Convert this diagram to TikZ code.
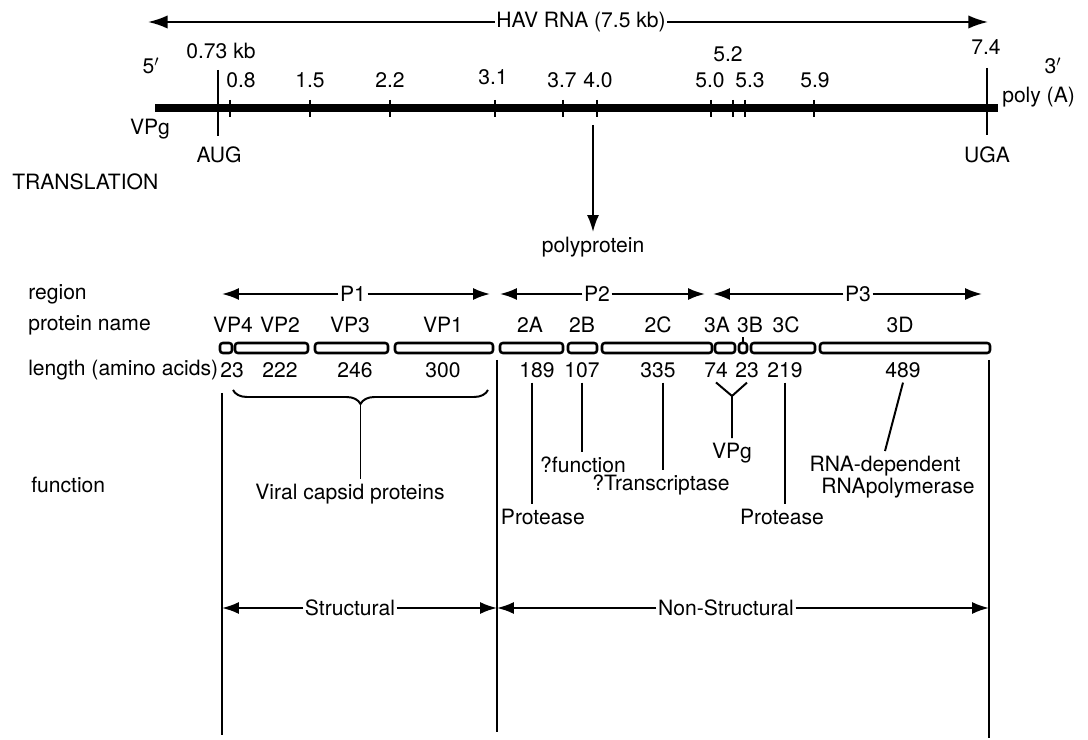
\documentclass[tikz,border=0pt]{standalone}
\usepackage{fontspec}
\setmainfont{TeX Gyre Heros}
\usetikzlibrary{arrows.meta,decorations.pathreplacing}

\begin{document}
\begin{tikzpicture}[x=0.025cm,y=-0.025cm,font=\fontsize{15}{18}\selectfont,
    thinl/.style={line width=1.4pt},
    arr/.style={thinl,-{Latex[length=12pt,width=8.5pt]}},
    bigarr/.style={thinl,-{Latex[length=14pt,width=9.5pt]}},
    pbox/.style={draw,line width=1.8pt,rounded corners=2pt,minimum height=0.25cm,inner sep=0pt},
    lab/.style={inner sep=1pt},
    rowlab/.style={anchor=west,inner sep=0pt}]
    \useasboundingbox (0,0) rectangle (1088,740);

    % RNA genome
    \node[lab] (hav) at (581,22) {HAV RNA (7.5 kb)};
    \coordinate (hl) at (148,22);
    \coordinate (hr) at (988,22);
    \draw[bigarr] (hav.west) -- (hl);
    \draw[bigarr] (hav.east) -- (hr);
    \coordinate (r5) at (155,108);
    \coordinate (r3) at (998,108);
    \draw[line width=5pt] (r5) -- (r3);
    \foreach \x/\lx/\ly/\v in {230/241/80/0.8, 310/310/80/1.5, 390/390/80/2.2, 495/493/77/3.1,
        563/562/80/3.7, 597/598/80/4.0, 711/710/80/5.0, 733/728/54/5.2, 745/750/80/5.3, 814/815/80/5.9}
    {
      \draw[thinl] (\x,100) -- (\x,117);
      \node (k\x) at (\lx,\ly) {\v};
    }
    \draw[thinl] (218,70) -- (218,136);
    \draw[thinl] (987,68) -- (987,135);
    \node (kb) at (221,51) {0.73 kb};
    \node (aug) at (219,155) {AUG};
    \node (k74) at (986,47) {7.4};
    \node (uga) at (987,155) {UGA};
    \node (p5) at (151,66) {5$'$};
    \node (p3) at (1053,66) {3$'$};
    \node (vpg5) at (150,129) {VPg};
    \node[rowlab] (polya) at (1002,97) {poly (A)};
    \node[rowlab] (trans) at (12,182) {TRANSLATION};

    % translation
    \coordinate (p0) at (593,125);
    \node (poly) at (593,247) {polyprotein};
    \draw[arr] (p0) -- (poly.north);

    % row labels
    \node[rowlab] (reg) at (28,294) {region};
    \node[rowlab] (pname) at (28,325) {protein name};
    \node[rowlab] (plen) at (28,370) {length (amino acids)};
    \node[rowlab] (pfun) at (31,485) {function};

    % regions
    \node[lab] (P1) at (353,294) {P1};
    \draw[arr] (P1.west) -- (222,294);
    \draw[arr] (P1.east) -- (490,294);
    \node[lab] (P2) at (597,294) {P2};
    \draw[arr] (P2.west) -- (500,294);
    \draw[arr] (P2.east) -- (705,294);
    \node[lab] (P3) at (858,294) {P3};
    \draw[arr] (P3.west) -- (713,294);
    \draw[arr] (P3.east) -- (982,294);

    % proteins
    \foreach \n/\a/\b/\nx/\lx/\len in {VP4/220/232/233/232/23, VP2/235/308/280/280/222,
        VP3/315/388/350/355/246, VP1/395/493/443/443/300, 2A/500/563/530/537/189,
        2B/568/597/582/582/107, 2C/602/712/658/658/335, 3A/715/735/717/716/74,
        3B/739/747/750/747/23, 3C/751/815/786/785/219, 3D/820/990/900/903/489}
    {
      \node[pbox,minimum width={(\b-\a)*0.025cm}] (b\n) at ({(\a+\b)/2},348) {};
      \node (n\n) at (\nx,325) {\n};
      \node (l\n) at (\lx,370) {\len};
    }
    \draw[thinl] (b3B.north) -- ++(0,-5);

    % borders
    \coordinate (vl0) at (222,393);
    \coordinate (vl1) at (222,735);
    \coordinate (vm0) at (497,360);
    \coordinate (vm1) at (497,732);
    \coordinate (vr0) at (989,360);
    \coordinate (vr1) at (989,738);
    \draw[thinl] (vl0) -- (vl1);
    \draw[thinl] (vm0) -- (vm1);
    \draw[thinl] (vr0) -- (vr1);

    % functions
    \draw[thinl,decorate,decoration={brace,mirror,amplitude=0.35cm}] (233,390) -- (488,390);
    \coordinate (bt) at (360.5,404);
    \node (capsid) at (350,494) {Viral capsid proteins};
    \draw[thinl] (bt) -- (bt |- capsid.north);

    \node[anchor=west] (fA) at (496,517) {Protease};
    \draw[thinl] ([xshift=-3.5pt]l2A.south) -- ([xshift=-3.5pt]l2A.south |- fA.north);
    \node (fB) at (583,465) {?function};
    \draw[thinl] (l2B.south) -- (l2B.south |- fB.north);
    \node (fC) at (661,485) {?Transcriptase};
    \draw[thinl] ([xshift=3.5pt]l2C.south) -- ([xshift=3.5pt]l2C.south |- fC.north);
    \coordinate (yj) at (732,396);
    \node (vpg) at (732,453) {VPg};
    \draw[thinl] (l3A.south) -- (yj) -- (vpg.north);
    \draw[thinl] (l3B.south) -- (yj);
    \node (f3C) at (782,517) {Protease};
    \draw[thinl] (l3C.south) -- (l3C.south |- f3C.north);
    \node (rdep) at (885,466) {RNA-dependent};
    \node (rpol) at (898,488) {RNApolymerase};
    \draw[thinl] (l3D.south) -- (rdep.north);

    % structural / non-structural
    \node[lab] (str) at (350,608) {Structural};
    \draw[arr] (str.west) -- (vl1 |- str.west);
    \draw[arr] (str.east) -- (vm1 |- str.east);
    \node[lab] (nstr) at (726,608) {Non-Structural};
    \draw[arr] (nstr.west) -- (vm1 |- nstr.west);
    \draw[arr] (nstr.east) -- (vr1 |- nstr.east);
\end{tikzpicture}
\end{document}
